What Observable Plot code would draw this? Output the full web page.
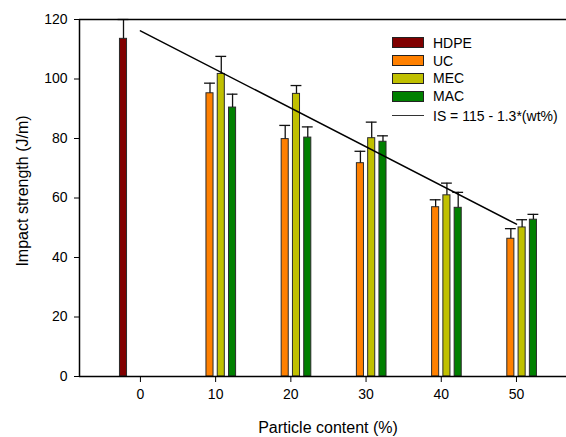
<!DOCTYPE html>
<html>
<head>
<meta charset="utf-8">
<script src="https://cdn.jsdelivr.net/npm/d3@7"></script>
<script src="https://cdn.jsdelivr.net/npm/@observablehq/plot@0.6"></script>
<style>
  html, body { margin: 0; padding: 0; background: #fff; }
  #wrap { position: relative; width: 566px; height: 437px; font-family: "Liberation Sans", Arial, sans-serif; }
  #legend { position: absolute; left: 392px; top: 34px; font-size: 14px; color: #000; }
  .row { display: flex; align-items: center; height: 17.8px; }
  .sw { width: 30px; height: 9px; border: 1px solid #222; margin-right: 9px; }
  .ln { width: 32px; height: 0; border-top: 1.6px solid #333; margin-right: 9px; }
  .title { position: absolute; font-size: 16px; color: #000; white-space: nowrap; line-height: 1; }
  #ytitle { left: 23px; top: 191px; transform: translate(-50%, -50%) rotate(-90deg); }
  #xtitle { left: 328px; top: 428px; transform: translate(-50%, -50%); }
</style>
</head>
<body>
<div id="wrap"><div id="legend"></div><div class="title" id="ytitle"></div><div class="title" id="xtitle"></div></div>
<script>
const seriesNames = ["HDPE", "UC", "MEC", "MAC"];
const seriesColors = ["#800000", "#FF8000", "#C0C000", "#008000"];
const seriesOffsets = [-2.25, -0.75, 0.75, 2.25];
const hdpeContent = [0];
const hdpeMean = [113.5];
const hdpeErr = [6.5];
const contents = [10, 20, 30, 40, 50];
const ucMean = [95.2, 79.8, 71.7, 56.9, 46.3];
const ucErr = [3.4, 4.6, 4.0, 2.5, 3.4];
const mecMean = [101.7, 95.0, 80.1, 60.9, 50.1];
const mecErr = [5.9, 2.8, 5.4, 4.1, 2.6];
const macMean = [90.4, 80.3, 78.9, 56.7, 52.7];
const macErr = [4.5, 3.6, 2.0, 5.2, 1.8];
const fitX = [0, 50];
const fitY = [116.2, 51.2];
const fitLabel = "IS = 115 - 1.3*(wt%)";
const xTicks = [0, 10, 20, 30, 40, 50];
const yTicks = [0, 20, 40, 60, 80, 100, 120];
const xTitle = "Particle content (%)";
const yTitle = "Impact strength (J/m)";

const rows = [];
hdpeContent.forEach((c, i) => rows.push({s: 0, c, m: hdpeMean[i], e: hdpeErr[i]}));
[[1, ucMean, ucErr], [2, mecMean, mecErr], [3, macMean, macErr]].forEach(([s, m, e]) =>
  contents.forEach((c, i) => rows.push({s, c, m: m[i], e: e[i]})));
rows.forEach(d => { d.x = d.c + seriesOffsets[d.s]; d.name = seriesNames[d.s]; });

const fit = fitX.map((x, i) => ({x, y: fitY[i]}));
const xMin = -8.1, xMax = 56.65;

const chart = Plot.plot({
  width: 566, height: 437,
  marginLeft: 79, marginRight: 0, marginTop: 19, marginBottom: 61,
  style: {fontFamily: "'Liberation Sans', Arial, sans-serif", fontSize: "14px", color: "#000", background: "#fff"},
  x: {domain: [xMin, xMax]},
  y: {domain: [0, 120]},
  color: {domain: seriesNames, range: seriesColors},
  marks: [
    Plot.rectY(rows, {x1: d => d.x - 0.47, x2: d => d.x + 0.47, y1: 0, y2: "m", fill: "name", stroke: "#2a2a2a", strokeWidth: 1}),
    Plot.ruleX(rows, {x: "x", y1: "m", y2: d => d.m + d.e, stroke: "#111", strokeWidth: 1.3}),
    Plot.ruleY(rows, {y: d => d.m + d.e, x1: d => d.x - 0.72, x2: d => d.x + 0.72, stroke: "#111", strokeWidth: 1.3}),
    Plot.line(fit, {x: "x", y: "y", stroke: "#000", strokeWidth: 1.5}),
    Plot.ruleY([0, 120], {stroke: "#000", strokeWidth: 1.5}),
    Plot.ruleX([xMin], {stroke: "#000", strokeWidth: 1.5}),
    Plot.axisX({ticks: xTicks, tickSize: 6, tickPadding: 7, label: null, fontSize: 14, stroke: "#000"}),
    Plot.axisY({ticks: yTicks, tickSize: 5, tickPadding: 7, label: null, fontSize: 14, stroke: "#000"})
  ]
});
document.getElementById("wrap").prepend(chart);
document.getElementById("xtitle").textContent = xTitle;
document.getElementById("ytitle").textContent = yTitle;

const legend = document.getElementById("legend");
seriesNames.forEach((n, i) => {
  const r = document.createElement("div"); r.className = "row";
  const s = document.createElement("div"); s.className = "sw"; s.style.background = seriesColors[i];
  r.appendChild(s); r.appendChild(document.createTextNode(n)); legend.appendChild(r);
});
const r = document.createElement("div"); r.className = "row"; r.style.marginTop = "1.5px";
const l = document.createElement("div"); l.className = "ln";
r.appendChild(l); r.appendChild(document.createTextNode(fitLabel)); legend.appendChild(r);
</script>
</body>
</html>
